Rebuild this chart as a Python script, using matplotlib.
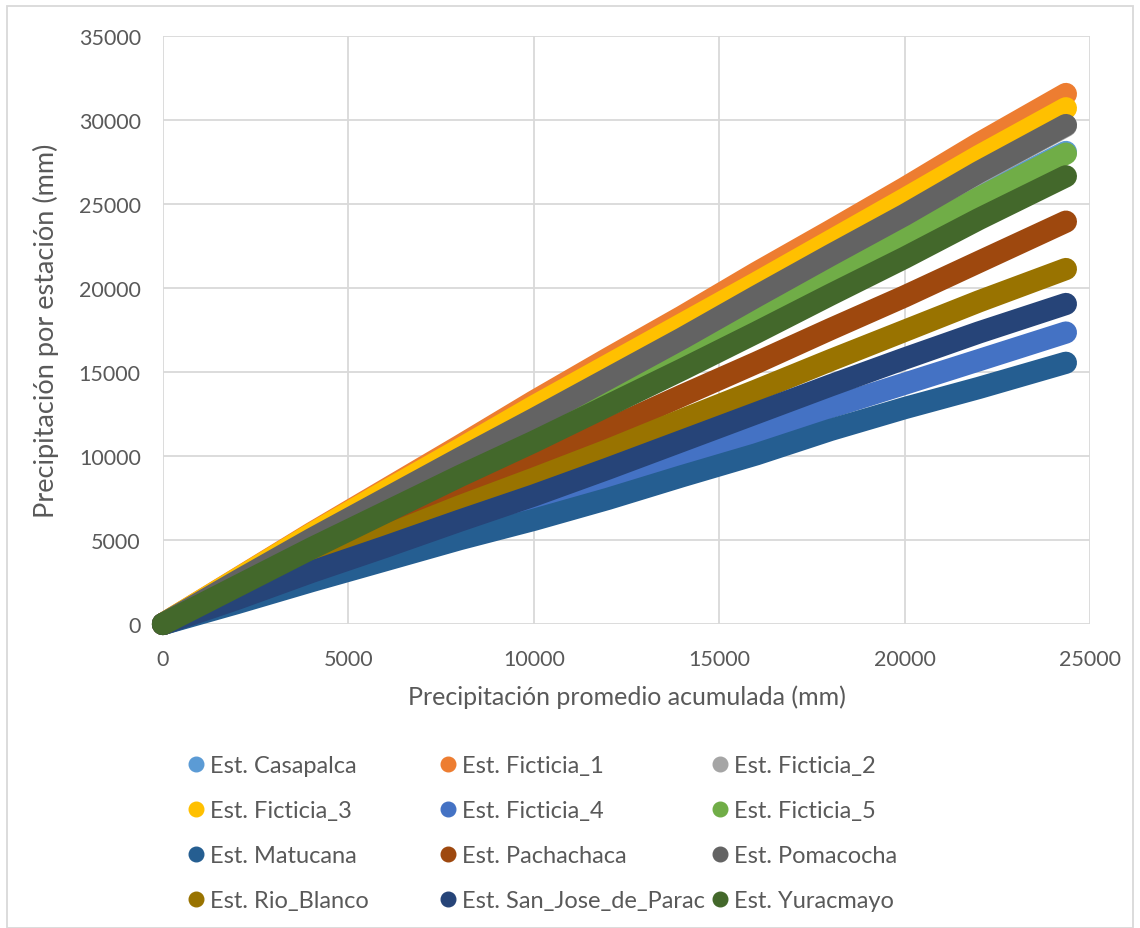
"""Double mass curves: station precipitation vs. accumulated mean precipitation."""

import matplotlib
matplotlib.use("Agg")
import matplotlib.pyplot as plt
from matplotlib.lines import Line2D
from matplotlib.patches import Rectangle

plt.rcParams["font.family"] = ["Lato", "DejaVu Sans"]

# accumulated mean precipitation (mm)
promedio = [0, 2000, 4000, 6000, 8000, 10000, 12000, 14000, 16000, 18000, 20000, 22000, 24350]

# accumulated precipitation per station (mm)
casapalca = [0, 2350, 4700, 7000, 9250, 11500, 13800, 16100, 18450, 20800, 23100, 25450, 28100]
ficticia_1 = [0, 2700, 5400, 8000, 10600, 13250, 15800, 18300, 20900, 23400, 25950, 28600, 31550]
ficticia_2 = [0, 2550, 5050, 7450, 9850, 12200, 14600, 17000, 19500, 21950, 24350, 26850, 29650]
ficticia_3 = [0, 2680, 5350, 7900, 10400, 12950, 15400, 17850, 20300, 22800, 25300, 27850, 30700]
ficticia_4 = [0, 1400, 2800, 4250, 5650, 7050, 8500, 9950, 11400, 12900, 14300, 15700, 17350]
ficticia_5 = [0, 2350, 4680, 6980, 9230, 11480, 13780, 16080, 18430, 20750, 23000, 25350, 28000]
matucana = [0, 1250, 2550, 3800, 5050, 6200, 7450, 8800, 10100, 11550, 12850, 14050, 15550]
pachachaca = [0, 1950, 3950, 5850, 7800, 9700, 11600, 13600, 15550, 17550, 19500, 21550, 23950]
pomacocha = [0, 2550, 5050, 7450, 9850, 12200, 14600, 17000, 19500, 21950, 24350, 26900, 29700]
rio_blanco = [0, 1750, 3550, 5250, 7000, 8650, 10350, 12150, 13900, 15700, 17450, 19200, 21130]
san_jose = [0, 1500, 3100, 4600, 6150, 7650, 9250, 10900, 12550, 14200, 15800, 17350, 19050]
yuracmayo = [0, 2250, 4500, 6650, 8800, 10850, 13000, 15150, 17350, 19600, 21800, 24100, 26650]

estaciones = [
    "Est. Casapalca", "Est. Ficticia_1", "Est. Ficticia_2", "Est. Ficticia_3",
    "Est. Ficticia_4", "Est. Ficticia_5", "Est. Matucana", "Est. Pachachaca",
    "Est. Pomacocha", "Est. Rio_Blanco", "Est. San_Jose_de_Parac", "Est. Yuracmayo",
]
series = [
    casapalca, ficticia_1, ficticia_2, ficticia_3, ficticia_4, ficticia_5,
    matucana, pachachaca, pomacocha, rio_blanco, san_jose, yuracmayo,
]
colores = [
    "#5B9BD5", "#ED7D31", "#A5A5A5", "#FFC000", "#4472C4", "#70AD47",
    "#255E91", "#9E480E", "#636363", "#997300", "#264478", "#43682B",
]

TEXT = "#595959"
GRID = "#D9D9D9"

fig = plt.figure(figsize=(11.4, 9.29), dpi=100)
ax = fig.add_axes([163 / 1140, 1 - 625 / 929, (1090 - 163) / 1140, (625 - 37) / 929])

for valores, color in zip(series, colores):
    ax.plot(promedio, valores, color=color, lw=16, clip_on=False,
            solid_capstyle="round", solid_joinstyle="round", zorder=3)

ax.set_xlim(0, 25000)
ax.set_ylim(0, 35000)
ax.set_xticks(range(0, 25001, 5000))
ax.set_yticks(range(0, 35001, 5000))
ax.grid(True, color=GRID, lw=1.3, zorder=0)
ax.set_axisbelow(True)
for sp in ax.spines.values():
    sp.set_visible(False)
ax.tick_params(length=0, labelsize=15.5, labelcolor=TEXT)
ax.tick_params(axis="y", pad=16)
ax.tick_params(axis="x", pad=18)
ax.set_xlabel("Precipitación promedio acumulada (mm)", fontsize=18, color=TEXT, labelpad=11)
ax.set_ylabel("Precipitación por estación (mm)", fontsize=19.5, color=TEXT, labelpad=14)

# legend: three columns, four rows
col_x = [189 / 1140, 441 / 1140, 713 / 1140]
for c in range(3):
    idx = [c, c + 3, c + 6, c + 9]
    handles = [Line2D([], [], ls="none", marker="o", ms=10.5, color=colores[i]) for i in idx]
    fig.legend(handles, [estaciones[i] for i in idx], loc="upper left",
               bbox_to_anchor=(col_x[c], 1 - 756 / 929), frameon=False,
               fontsize=17, labelcolor=TEXT, handlelength=0.6, handletextpad=0.3,
               labelspacing=1.02, borderpad=0, borderaxespad=0)

fig.patches.append(Rectangle((7 / 1140, 0), 1 - 14 / 1140, 1 - 7 / 929,
                             transform=fig.transFigure, fill=False,
                             edgecolor=GRID, lw=1.3))

fig.savefig("out.png", dpi=100)
